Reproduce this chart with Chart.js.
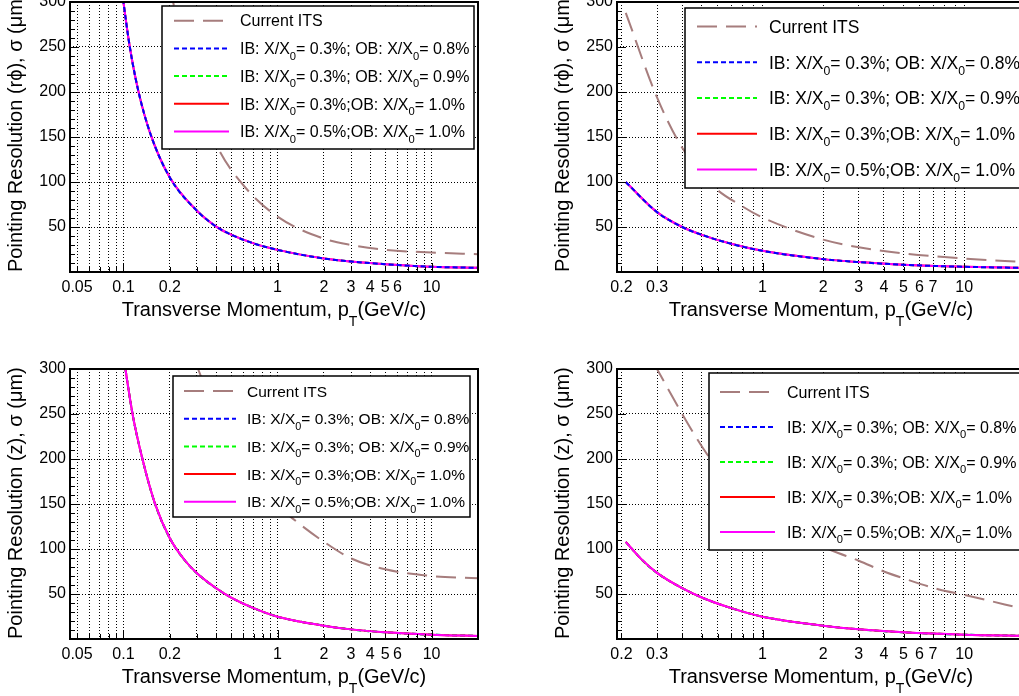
<!DOCTYPE html>
<html>
<head>
<meta charset="utf-8">
<script src="https://cdn.jsdelivr.net/npm/chart.js@4.4.1/dist/chart.umd.min.js"></script>
<style>
  html, body { margin: 0; padding: 0; background: #fff; }
  body { width: 1019px; height: 696px; overflow: hidden; position: relative; }
  .pad { position: absolute; width: 500px; height: 342px; }
</style>
</head>
<body>
<div class="pad" style="left:0;top:-12px"><canvas id="rphiWide" width="500" height="342"></canvas></div>
<div class="pad" style="left:547px;top:-12px"><canvas id="rphiHigh" width="500" height="342"></canvas></div>
<div class="pad" style="left:0;top:355px"><canvas id="zWide" width="500" height="342"></canvas></div>
<div class="pad" style="left:547px;top:355px"><canvas id="zHigh" width="500" height="342"></canvas></div>
<script>
const FONT = '"Liberation Sans", Arial, Helvetica, sans-serif';

// legend entries, same in all four pads
const seriesNames = [
  'Current ITS',
  'IB: X/X_{0}= 0.3%; OB: X/X_{0}= 0.8%',
  'IB: X/X_{0}= 0.3%; OB: X/X_{0}= 0.9%',
  'IB: X/X_{0}= 0.3%;OB: X/X_{0}= 1.0%',
  'IB: X/X_{0}= 0.5%;OB: X/X_{0}= 1.0%'
];

// log axis grid positions and the ones that carry a label
const gridWide = [0.05, 0.06, 0.07, 0.08, 0.09, 0.1, 0.2, 0.3, 0.4, 0.5, 0.6, 0.7, 0.8, 0.9,
                  1, 2, 3, 4, 5, 6, 7, 8, 9, 10, 20];
const gridHigh = [0.2, 0.3, 0.4, 0.5, 0.6, 0.7, 0.8, 0.9, 1, 2, 3, 4, 5, 6, 7, 8, 9, 10, 20];
const labelsWide = ['0.05', '0.1', '0.2', '1', '2', '3', '4', '5', '6', '10'];
const labelsHigh = ['0.2', '0.3', '1', '2', '3', '4', '5', '6', '7', '10'];
const yTicks = [50, 100, 150, 200, 250, 300];

// r-phi, pT from 0.045 (top left)
const rphiWidePt   = [0.095, 0.1, 0.11, 0.125, 0.15, 0.2, 0.3, 0.4, 0.5, 0.7, 1, 2, 3, 5, 10, 20];
const rphiWideNew  = [330, 300, 250, 201, 153, 105, 68, 50.5, 41.5, 31.8, 24.6, 15, 11.7, 8.7, 5.8, 4.6];
const rphiWideItsPt = [0.2, 0.21, 0.3, 0.41, 0.61, 1, 2, 3, 5, 10, 20];
const rphiWideIts   = [318, 300, 197, 138, 95, 61.5, 37, 30, 24.6, 21.7, 19.8];

// r-phi, pT from 0.2 (top right)
const rphiHighPt   = [0.21, 0.3, 0.4, 0.5, 0.7, 1, 2, 3, 5, 10, 20];
const rphiHighNew  = [100, 66.5, 50, 41.3, 31.3, 23.5, 14.3, 11, 8, 5.8, 4.5];
const rphiHighItsPt = [0.21, 0.3, 0.4, 0.565, 0.8, 1, 2, 3, 5, 10, 20];
const rphiHighIts   = [288, 194, 138, 96, 72.5, 60.5, 36, 27.5, 20.6, 15, 11];

// z, pT from 0.045 (bottom left)
const zWidePt   = [0.098, 0.103, 0.115, 0.133, 0.16, 0.2, 0.25, 0.3, 0.4, 0.5, 0.7, 1, 2, 3, 5, 10, 20];
const zWideNew  = [326, 300, 248.5, 199.6, 150.7, 112, 87.5, 73, 56.4, 46.1, 34.3, 24.8, 14.8, 10.7, 7.4, 4.8, 3.4];
const zWideItsPt = [0.29, 0.305, 0.4, 0.5, 0.7, 1, 1.25, 2, 3, 5, 10, 20];
const zWideIts   = [310, 300, 250, 213, 172, 148, 134, 108, 89.6, 77.4, 70, 67.4];

// z, pT from 0.2 (bottom right)
const zHighPt   = [0.21, 0.25, 0.3, 0.4, 0.5, 0.7, 1, 2, 3, 5, 10, 20];
const zHighNew  = [108, 89, 73.5, 56.5, 46.1, 34.3, 24.8, 14.8, 10.7, 7.4, 4.8, 3.5];
const zHighItsPt = [0.29, 0.3, 0.4, 0.514, 0.7, 1, 1.5, 2.22, 3, 4, 5, 7.5, 10, 20];
const zHighIts   = [306, 300, 250, 210, 170, 140, 115, 98, 87, 75, 67.4, 55, 49, 33];

const lineStyles = [
  { borderColor: '#a67d7d', borderWidth: 2, borderDash: [20, 9] },
  { borderColor: '#0000ff', borderWidth: 2, borderDash: [5, 3] },
  { borderColor: '#00ff00', borderWidth: 2, borderDash: [5, 3] },
  { borderColor: '#ff0000', borderWidth: 2, borderDash: [] },
  { borderColor: '#ff00ff', borderWidth: 2, borderDash: [] }
];

// text with ROOT style _{sub} pieces
function richText(ctx, text, x, y, size, drop, align) {
  const parts = text.split(/_\{([^}]*)\}/);
  const fontOf = i => (i % 2 ? size * 0.7 : size) + 'px ' + FONT;
  let w = 0;
  parts.forEach((p, i) => { ctx.font = fontOf(i); w += ctx.measureText(p).width; });
  let cx = align === 'center' ? x - w / 2 : x;
  ctx.textAlign = 'left';
  ctx.textBaseline = 'alphabetic';
  parts.forEach((p, i) => {
    ctx.font = fontOf(i);
    ctx.fillText(p, cx, i % 2 ? y + size * drop : y);
    cx += ctx.measureText(p).width;
  });
}

// frame, inner tick marks, TLegend-like box and axis titles
const rootPad = {
  id: 'rootPad',
  afterDatasetsDraw(chart, args, opts) {
    const { ctx, chartArea: a, scales: { x, y } } = chart;
    ctx.save();
    ctx.setLineDash([]);
    ctx.strokeStyle = '#000';
    ctx.lineWidth = 1;
    ctx.beginPath();
    for (let v = 10; v < 300; v += 10) {
      const py = Math.round(y.getPixelForValue(v)) + 0.5;
      const len = v % 50 === 0 ? 9 : 5;
      ctx.moveTo(a.left, py);
      ctx.lineTo(a.left + len, py);
    }
    x.ticks.forEach(t => {
      const px = Math.round(x.getPixelForValue(t.value)) + 0.5;
      const lg = Math.log10(t.value);
      const len = Math.abs(lg - Math.round(lg)) < 1e-9 ? 9 : 5;
      ctx.moveTo(px, a.bottom);
      ctx.lineTo(px, a.bottom - len);
    });
    ctx.stroke();

    // legend
    const L = opts.legend;
    const bx = a.left + L.x, by = a.top + L.y;
    ctx.fillStyle = '#fff';
    ctx.fillRect(bx, by, L.w, L.h);
    ctx.lineWidth = 1.5;
    ctx.strokeRect(bx, by, L.w, L.h);
    chart.data.datasets.forEach((ds, i) => {
      const ry = by + L.row0 + i * L.dy;
      ctx.strokeStyle = ds.borderColor;
      ctx.lineWidth = ds.borderWidth;
      ctx.setLineDash(ds.borderDash || []);
      ctx.beginPath();
      ctx.moveTo(bx + L.s0, ry);
      ctx.lineTo(bx + L.s1, ry);
      ctx.stroke();
      ctx.fillStyle = '#000';
      richText(ctx, ds.label, bx + L.tx, ry + L.size * 0.36, L.size, 0.35, 'left');
    });
    ctx.setLineDash([]);

    // frame
    ctx.strokeStyle = '#000';
    ctx.lineWidth = 2;
    ctx.strokeRect(a.left, a.top, a.right - a.left, a.bottom - a.top);

    // axis titles
    ctx.fillStyle = '#000';
    richText(ctx, opts.xTitle, (a.left + a.right) / 2, a.bottom + 44, 20, 0.5, 'center');
    ctx.translate(a.left - 48, a.bottom);
    ctx.rotate(-Math.PI / 2);
    richText(ctx, opts.yTitle, 0, 0, 20, 0.5, 'left');
    ctx.restore();
  }
};

function curve(k, xs, ys, order) {
  return Object.assign({
    label: seriesNames[k],
    data: xs.map((v, i) => ({ x: v, y: ys[i] })),
    order: order,
    fill: false,
    pointRadius: 0,
    clip: 0,
    cubicInterpolationMode: 'monotone'
  }, lineStyles[k]);
}

function makePad(id, cfg) {
  const labelSet = new Set(cfg.labels.map(Number));
  const tickFont = { family: FONT, size: 16 };
  // blue on top in the r-phi pads, magenta on top in the z pads
  const orders = cfg.blueOnTop ? [4, 0, 3, 2, 1] : [4, 3, 2, 1, 0];
  return new Chart(document.getElementById(id), {
    type: 'line',
    data: {
      datasets: [
        curve(0, cfg.itsPt, cfg.its, orders[0]),
        curve(1, cfg.pt, cfg.fresh, orders[1]),
        curve(2, cfg.pt, cfg.fresh, orders[2]),
        curve(3, cfg.pt, cfg.fresh, orders[3]),
        curve(4, cfg.pt, cfg.fresh, orders[4])
      ]
    },
    options: {
      responsive: false,
      animation: false,
      layout: { padding: { top: 14, right: 22, bottom: 0, left: 0 } },
      plugins: {
        legend: { display: false },
        tooltip: { enabled: false },
        rootPad: { legend: cfg.legend, xTitle: 'Transverse Momentum, p_{T}(GeV/c)', yTitle: cfg.yTitle }
      },
      scales: {
        x: {
          type: 'logarithmic',
          min: cfg.xMin,
          max: 20,
          afterBuildTicks: s => { s.ticks = cfg.grid.map(v => ({ value: v })); },
          afterFit: s => { s.height = 58; },
          grid: { color: '#000', lineWidth: 1, drawTicks: false },
          border: { display: false, dash: [1, 2] },
          ticks: {
            autoSkip: false, maxRotation: 0, minRotation: 0, padding: 6, color: '#000', font: tickFont,
            callback: v => labelSet.has(v) ? String(v) : ''
          }
        },
        y: {
          min: 0,
          max: 300,
          afterBuildTicks: s => { s.ticks = yTicks.map(v => ({ value: v })); },
          afterFit: s => { s.width = 70; },
          grid: { color: '#000', lineWidth: 1, drawTicks: false },
          border: { display: false, dash: [1, 2] },
          ticks: { padding: 4, color: '#000', font: tickFont }
        }
      }
    },
    plugins: [rootPad]
  });
}

makePad('rphiWide', {
  xMin: 0.045, grid: gridWide, labels: labelsWide, blueOnTop: true,
  pt: rphiWidePt, fresh: rphiWideNew, itsPt: rphiWideItsPt, its: rphiWideIts,
  yTitle: 'Pointing Resolution (rϕ), σ (μm)',
  legend: { x: 92, y: 4, w: 312, h: 143, row0: 14.7, dy: 27.7, s0: 12, s1: 67, tx: 78, size: 16 }
});
makePad('rphiHigh', {
  xMin: 0.19, grid: gridHigh, labels: labelsHigh, blueOnTop: true,
  pt: rphiHighPt, fresh: rphiHighNew, itsPt: rphiHighItsPt, its: rphiHighIts,
  yTitle: 'Pointing Resolution (rϕ), σ (μm)',
  legend: { x: 68, y: 6, w: 380, h: 180, row0: 18.4, dy: 35.8, s0: 12, s1: 72, tx: 84, size: 17.5 }
});
makePad('zWide', {
  xMin: 0.045, grid: gridWide, labels: labelsWide, blueOnTop: false,
  pt: zWidePt, fresh: zWideNew, itsPt: zWideItsPt, its: zWideIts,
  yTitle: 'Pointing Resolution (z), σ (μm)',
  legend: { x: 103, y: 7, w: 297, h: 141, row0: 15, dy: 27.7, s0: 11, s1: 63, tx: 74, size: 15.5 }
});
makePad('zHigh', {
  xMin: 0.19, grid: gridHigh, labels: labelsHigh, blueOnTop: false,
  pt: zHighPt, fresh: zHighNew, itsPt: zHighItsPt, its: zHighIts,
  yTitle: 'Pointing Resolution (z), σ (μm)',
  legend: { x: 92, y: 4, w: 360, h: 177, row0: 19, dy: 35, s0: 11, s1: 66, tx: 78, size: 16 }
});
</script>
</body>
</html>
